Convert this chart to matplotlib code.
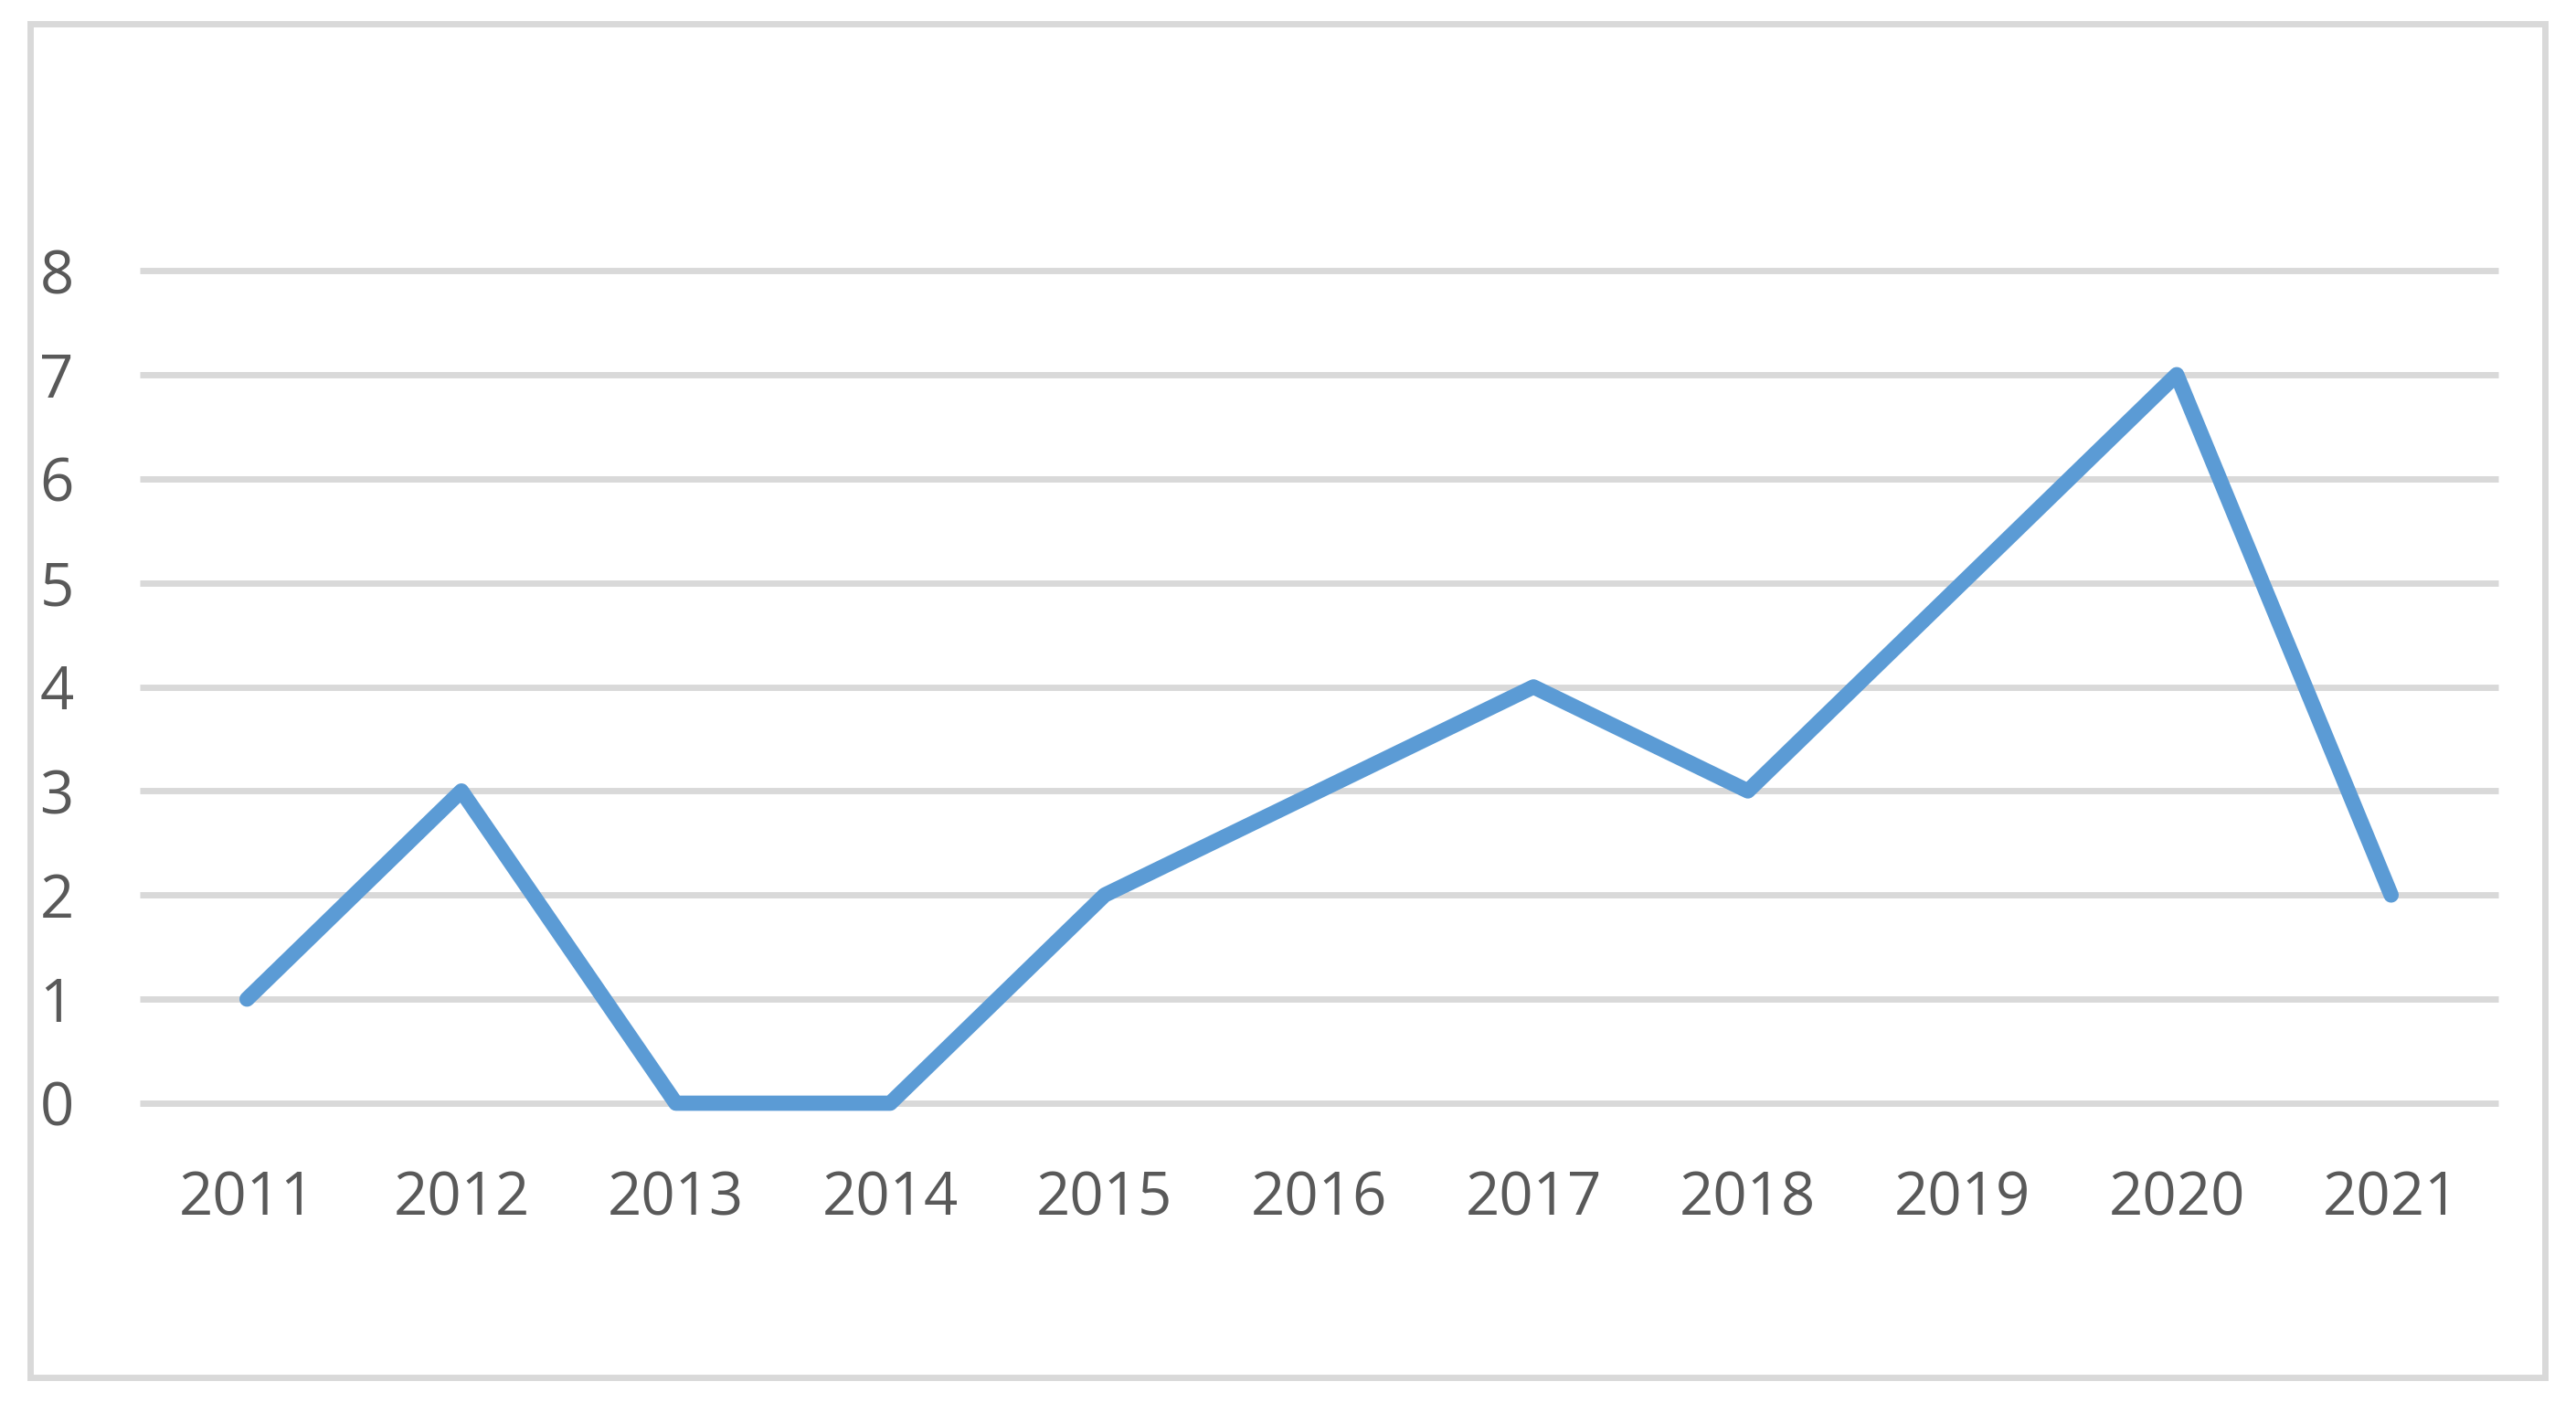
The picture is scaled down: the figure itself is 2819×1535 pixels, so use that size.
import matplotlib
matplotlib.use("Agg")
import matplotlib.pyplot as plt
from matplotlib.patches import Rectangle

years = ["2011", "2012", "2013", "2014", "2015", "2016", "2017", "2018", "2019", "2020", "2021"]
values = [1, 3, 0, 0, 2, 3, 4, 3, 5, 7, 2]
yticks = [0, 1, 2, 3, 4, 5, 6, 7, 8]

W, H = 2819, 1535
dpi = 100
fig = plt.figure(figsize=(W / dpi, H / dpi), dpi=dpi)
fig.patch.set_facecolor("white")

# outer frame
fig.patches.append(Rectangle((33 / W, 1 - 1507 / H), (2785 - 33) / W, (1507 - 26) / H,
                             transform=fig.transFigure, fill=False,
                             edgecolor="#D9D9D9", linewidth=5, zorder=0))

x0, x1 = 153, 2734
y0, y8 = 1207, 296
ax = fig.add_axes([x0 / W, 1 - y0 / H, (x1 - x0) / W, (y0 - y8) / H])
ax.set_xlim(-0.5, len(years) - 0.5)
ax.set_ylim(0, 8)

for s in ax.spines.values():
    s.set_visible(False)

for t in yticks:
    ax.axhline(t, color="#D9D9D9", linewidth=5, zorder=1, solid_capstyle="butt", clip_on=False)

xs = list(range(len(years)))
ax.plot(xs, values, color="#5B9BD5", linewidth=12, solid_capstyle="round",
        solid_joinstyle="round", zorder=3, clip_on=False)

font = "Open Sans"
ax.set_xticks(xs)
ax.set_xticklabels(years, fontfamily=font, fontsize=47, color="#595959")
ax.set_yticks(yticks)
ax.set_yticklabels([str(t) for t in yticks], fontfamily=font, fontsize=47, color="#595959")
ax.tick_params(axis="x", length=0, pad=52)
ax.tick_params(axis="y", length=0, pad=52)

fig.savefig("out.png", dpi=dpi, facecolor="white")
